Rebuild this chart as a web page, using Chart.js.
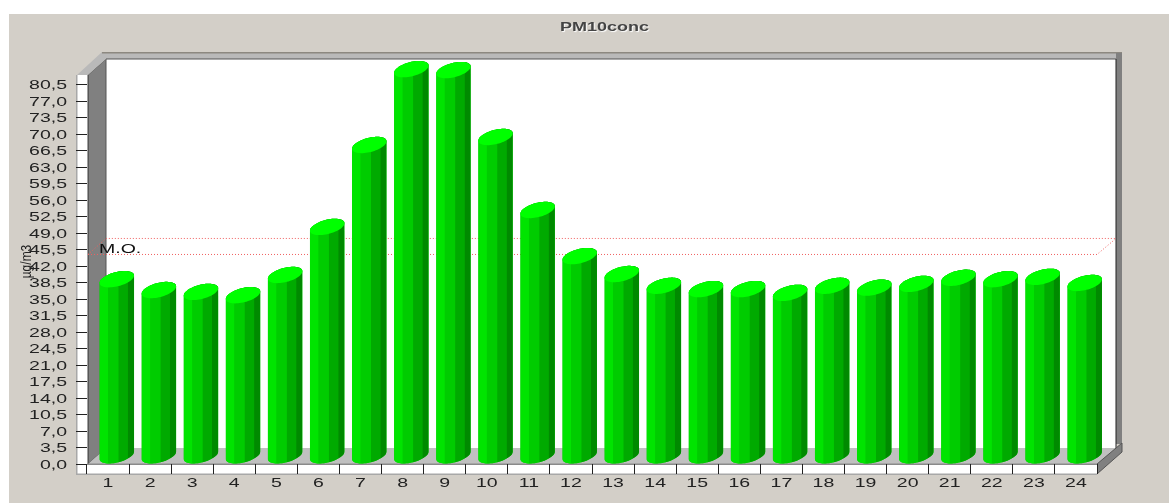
<!DOCTYPE html>
<html>
<head>
<meta charset="utf-8">
<title>PM10conc</title>
<script src="https://cdn.jsdelivr.net/npm/chart.js@4"></script>
<style>
  html, body { margin: 0; padding: 0; background: #fff; overflow: hidden; }
  canvas { display: block; }
</style>
</head>
<body>
<canvas id="pmChart" width="1169" height="503"></canvas>
<script>
"use strict";

const chartTitle = "PM10conc";
const yAxisTitle = "µg/m3";
const meanLabel = "M.O.";
const meanValue = 44.6;
const hours = ["1","2","3","4","5","6","7","8","9","10","11","12","13","14","15","16","17","18","19","20","21","22","23","24"];
const pm10Values = [37.5,35.2,34.8,34.1,38.4,48.6,66.0,82.1,81.9,67.7,52.2,42.4,38.6,36.1,35.4,35.4,34.6,36.1,35.7,36.5,37.8,37.5,38.0,36.7];

const BG = "#d3cfc8";
const WALL = "#808080";
const FLOOR = "#c0c0c0";
const BEVEL = "#b9b9b9";
const DEPTH_X = 18;
const DEPTH_Y = 16;

const canvas = document.getElementById("pmChart");
const ctx = canvas.getContext("2d");

// El original esta estirado en horizontal: se estira cada texto desde su ancla
const rawFillText = ctx.fillText.bind(ctx);
ctx.fillText = function (text, x, y) {
  ctx.save();
  let stretch = 1.5;
  if (text === yAxisTitle) {
    stretch = 0.8;
    x += 8;
  }
  if (text.includes(",")) y += 1;
  if (text === chartTitle) {
    ctx.shadowColor = "#ffffff";
    ctx.shadowOffsetX = 1;
    ctx.shadowOffsetY = 1;
    ctx.shadowBlur = 1;
  }
  ctx.translate(x, y);
  ctx.scale(stretch, 1);
  rawFillText(text, 0, 0);
  ctx.restore();
};

function poly(points, fill, stroke) {
  ctx.beginPath();
  points.forEach((p, i) => (i ? ctx.lineTo(p[0], p[1]) : ctx.moveTo(p[0], p[1])));
  ctx.closePath();
  if (fill) {
    ctx.fillStyle = fill;
    ctx.fill();
  }
  if (stroke) {
    ctx.strokeStyle = stroke;
    ctx.lineWidth = 1;
    ctx.stroke();
  }
}

// Caja 3D: paredes, piso y bandas blancas de los ejes
const boxPlugin = {
  id: "box3d",
  beforeDraw(chart) {
    const { left, right, top, bottom } = chart.chartArea;
    const backL = left + DEPTH_X + 1;
    const backR = right + DEPTH_X + 1;
    const backB = bottom - DEPTH_Y;
    const backT = top - DEPTH_Y;

    ctx.save();
    ctx.fillStyle = "#ffffff";
    ctx.fillRect(0, 0, 1169, 503);
    ctx.fillStyle = BG;
    ctx.fillRect(9, 14, 1160, 489);

    ctx.fillStyle = "#ffffff";
    ctx.fillRect(backL, backT, backR - backL, backB - backT);

    // pared izquierda y borde superior
    poly([[left + 1, top], [backL, backT], [backL, backB], [left + 1, bottom]], WALL, "#555555");
    poly([[77, top], [102, backT - 7], [backR + 6, backT - 7], [backR, backT], [backL, backT], [left + 1, top]], BEVEL);
    ctx.fillStyle = "#8c8880";
    ctx.fillRect(102, backT - 7, backR - 96, 1.5);
    ctx.fillStyle = "#555555";
    ctx.fillRect(backL, backT - 0.5, backR - backL, 1);

    // pared derecha
    ctx.fillStyle = WALL;
    ctx.fillRect(backR, backT - 6, 6, backB - backT + 2);
    ctx.fillStyle = "#222222";
    ctx.fillRect(backR - 0.5, backT, 1, backB - backT);

    // piso y canto derecho
    poly([[left + 1, bottom], [backL, backB], [backR, backB], [right, bottom]], FLOOR);
    poly([[right, bottom], [backR + 6, backB - 5], [backR + 6, backB + 4], [right, bottom + 10]], WALL, "#555555");

    // bandas de los ejes
    ctx.fillStyle = "#ffffff";
    ctx.fillRect(77, top, 11, bottom - top + 10);
    ctx.fillRect(77, bottom, right - 77, 10);
    ctx.fillStyle = "#a8a8a8";
    ctx.fillRect(76, top, 1.5, bottom - top + 11);
    ctx.fillRect(76, bottom + 9.5, right - 76, 1.5);
    ctx.fillStyle = "#444444";
    ctx.fillRect(left + 0.5, top, 1, bottom - top);
    ctx.fillStyle = "#8a8a8a";
    ctx.fillRect(left, bottom - 0.5, right - left, 1.5);
    ctx.restore();
  },
  beforeDatasetsDraw(chart) {
    // linea punteada de la media, delante y detras
    const { left, right } = chart.chartArea;
    const y = chart.scales.y.getPixelForValue(meanValue);
    ctx.save();
    ctx.strokeStyle = "#f06060";
    ctx.lineWidth = 1;
    ctx.setLineDash([1, 2]);
    ctx.beginPath();
    ctx.moveTo(left + 1, y + 0.5);
    ctx.lineTo(right, y + 0.5);
    ctx.lineTo(right + DEPTH_X + 1, y - DEPTH_Y + 0.5);
    ctx.lineTo(left + DEPTH_X + 1, y - DEPTH_Y + 0.5);
    ctx.lineTo(left + 1, y + 0.5);
    ctx.stroke();
    ctx.setLineDash([]);
    ctx.fillStyle = "#111111";
    ctx.font = "13px 'Liberation Sans'";
    ctx.textAlign = "left";
    ctx.textBaseline = "middle";
    ctx.fillText(meanLabel, 99, y - 5);
    ctx.restore();
  },
};

function ellipsePoint(cx, cy, halfW, t) {
  return [cx + halfW * Math.cos(t), cy - 3.7 * Math.cos(t) + 7.3 * Math.sin(t)];
}

function drawCylinder(el) {
  const width = el.width;
  const x0 = el.x - 8.5;
  const halfW = width / 2;
  const cx = x0 + halfW;
  const topCy = el.y - 8.2;
  const baseCy = el.base - 8.2;
  const outline = [];
  const cap = [];
  for (let i = 0; i <= 32; i++) {
    const t = Math.PI - (i / 32) * Math.PI;
    outline.push(ellipsePoint(cx, baseCy, halfW, t));
  }
  for (let i = 0; i <= 32; i++) {
    outline.push(ellipsePoint(cx, topCy, halfW, -(i / 32) * Math.PI));
  }
  for (let i = 0; i < 64; i++) {
    cap.push(ellipsePoint(cx, topCy, halfW, (i / 64) * 2 * Math.PI));
  }

  ctx.save();
  poly(outline, "#00cc00");
  ctx.clip();
  const bands = [[0, 0.25, "#00e400"], [0.25, 0.55, "#00cc00"], [0.55, 0.82, "#00aa00"], [0.82, 1, "#008a00"]];
  bands.forEach((b) => {
    ctx.fillStyle = b[2];
    ctx.fillRect(x0 + b[0] * width, el.y - 20, (b[1] - b[0]) * width, el.base - el.y + 30);
  });
  ctx.restore();
  poly(cap, "#00ff00");
}

// Reemplaza el dibujo de las barras por cilindros sobre los elementos de Chart.js
const cylinderPlugin = {
  id: "cylinders",
  beforeDatasetDraw(chart, args) {
    args.meta.data.forEach(drawCylinder);
    return false;
  },
};

// Corre el titulo hacia la derecha del centro del area
const titleShift = {
  id: "titleShift",
  afterLayout(chart) {
    chart.titleBlock.left += 56;
    chart.titleBlock.right += 56;
  },
};

new Chart(ctx, {
  type: "bar",
  data: {
    labels: hours,
    datasets: [
      {
        label: chartTitle,
        data: pm10Values,
        backgroundColor: "#00cc00",
        borderWidth: 0,
        barPercentage: 0.82,
        categoryPercentage: 1,
      },
    ],
  },
  plugins: [boxPlugin, cylinderPlugin, titleShift],
  options: {
    responsive: false,
    animation: false,
    layout: { padding: { left: 0, right: 72, top: 0, bottom: 0 } },
    plugins: {
      legend: { display: false },
      tooltip: { enabled: false },
      title: {
        display: true,
        text: chartTitle,
        color: "#444444",
        font: { family: "'Liberation Sans'", size: 12, weight: "bold", lineHeight: 1.2 },
        padding: { top: 20, bottom: 40.6 },
      },
    },
    scales: {
      x: {
        grid: { drawOnChartArea: false, drawTicks: true, tickLength: 10, tickColor: "#222222" },
        border: { display: false },
        ticks: {
          autoSkip: false,
          maxRotation: 0,
          padding: 2,
          color: "#222222",
          font: { family: "'Liberation Sans'", size: 13 },
        },
        afterFit(scale) {
          scale.height = 39;
        },
      },
      y: {
        min: 0,
        max: 82.6,
        grid: { drawOnChartArea: false, drawTicks: true, tickLength: 11, tickColor: "#222222" },
        border: { display: false },
        title: {
          display: true,
          text: yAxisTitle,
          color: "#222222",
          font: { family: "'Liberation Sans'", size: 15 },
          padding: { top: 18, bottom: 0 },
        },
        ticks: {
          stepSize: 3.5,
          includeBounds: false,
          autoSkip: false,
          padding: 9,
          color: "#222222",
          font: { family: "'Liberation Sans'", size: 13 },
          callback: (v) => v.toFixed(1).replace(".", ","),
        },
        afterFit(scale) {
          scale.width = 87;
        },
      },
    },
  },
});
</script>
</body>
</html>
